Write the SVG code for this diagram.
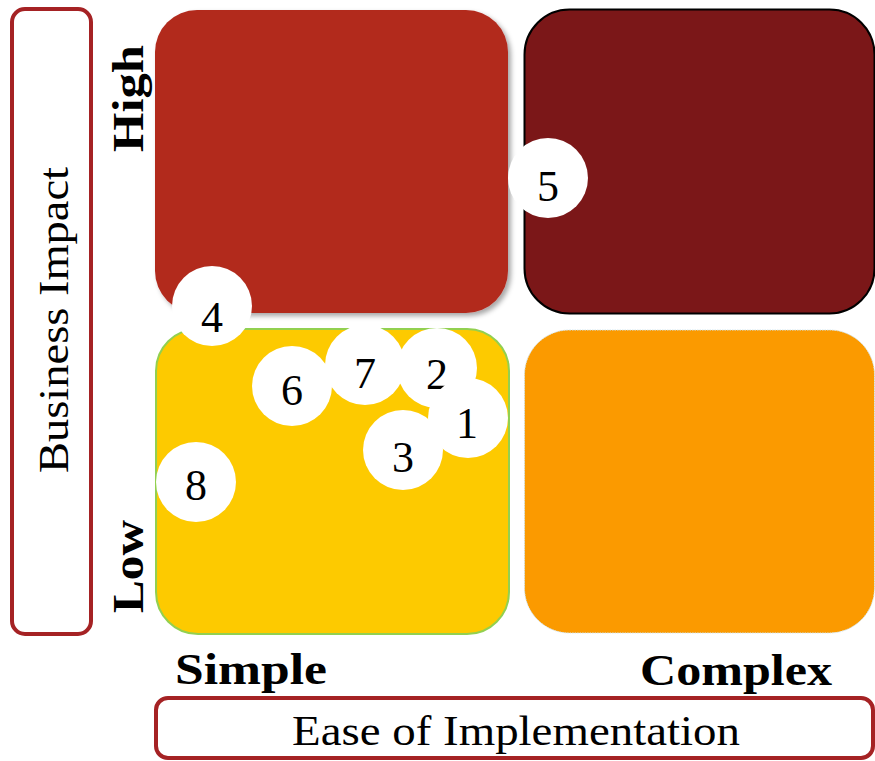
<svg xmlns="http://www.w3.org/2000/svg" width="875" height="761" viewBox="0 0 875 761">
<defs>
<filter id="sh" x="-10%" y="-10%" width="130%" height="130%">
<feDropShadow dx="3" dy="3" stdDeviation="2.5" flood-color="#000" flood-opacity="0.35"/>
</filter>
</defs>
<style>
.axis{fill:#fff;stroke:#A52224;stroke-width:4}
.lbl{font-family:"Liberation Serif","DejaVu Serif",serif;font-size:42px;fill:#000}
.bold{font-family:"Liberation Serif","DejaVu Serif",serif;font-size:44px;font-weight:bold;fill:#000}
.dot{fill:#fff}
.num{font-family:"Liberation Serif","DejaVu Serif",serif;font-size:44px;fill:#000;text-anchor:middle}
</style>
<rect width="875" height="761" fill="#fff"/>
<g id="quadrant-high-simple"><rect x="155" y="10" width="353" height="303" rx="42" fill="#B22A1E" filter="url(#sh)"/></g>
<g id="quadrant-high-complex"><rect x="524.5" y="9.5" width="350" height="304" rx="45" fill="#7B1718" stroke="#000" stroke-width="2"/></g>
<g id="quadrant-low-simple"><rect x="156" y="329" width="353" height="305" rx="42" fill="#FDCA00" stroke="#92D050" stroke-width="2"/></g>
<g id="quadrant-low-complex"><rect x="524.5" y="330" width="350" height="303" rx="45" fill="#FB9A00" stroke="#CFE6F2" stroke-width="1" stroke-dasharray="1.5 1"/></g>
<g id="axis-y">
<rect class="axis" x="12" y="9" width="79" height="625" rx="13"/>
<text class="lbl" transform="translate(68 473) rotate(-90)" textLength="306" lengthAdjust="spacingAndGlyphs">Business Impact</text>
</g>
<g id="axis-x">
<rect class="axis" x="156" y="698" width="717" height="60" rx="12"/>
<text class="lbl" x="292" y="745" textLength="448" lengthAdjust="spacingAndGlyphs">Ease of Implementation</text>
</g>
<g id="labels">
<text class="bold" transform="translate(143 152) rotate(-90)" textLength="107" lengthAdjust="spacingAndGlyphs">High</text>
<text class="bold" transform="translate(143 613) rotate(-90)" textLength="93" lengthAdjust="spacingAndGlyphs">Low</text>
<text class="bold" x="175" y="684" textLength="152" lengthAdjust="spacingAndGlyphs">Simple</text>
<text class="bold" x="640" y="685" textLength="192" lengthAdjust="spacingAndGlyphs">Complex</text>
</g>
<g id="item-5"><circle class="dot" cx="548" cy="178" r="40"/><text class="num" x="548" y="201">5</text></g>
<g id="item-4"><circle class="dot" cx="212" cy="306" r="40"/><text class="num" x="212" y="332">4</text></g>
<g id="item-6"><circle class="dot" cx="292" cy="386" r="40"/><text class="num" x="292" y="405">6</text></g>
<g id="item-7"><circle class="dot" cx="365" cy="365" r="40"/><text class="num" x="365" y="388">7</text></g>
<g id="item-2"><circle class="dot" cx="437" cy="368" r="40"/><text class="num" x="437" y="389">2</text></g>
<g id="item-1"><circle class="dot" cx="468" cy="418" r="40"/><text class="num" x="467" y="438">1</text></g>
<g id="item-3"><circle class="dot" cx="403" cy="450" r="40"/><text class="num" x="403" y="472">3</text></g>
<g id="item-8"><circle class="dot" cx="196" cy="482" r="40"/><text class="num" x="196" y="500">8</text></g>
</svg>
